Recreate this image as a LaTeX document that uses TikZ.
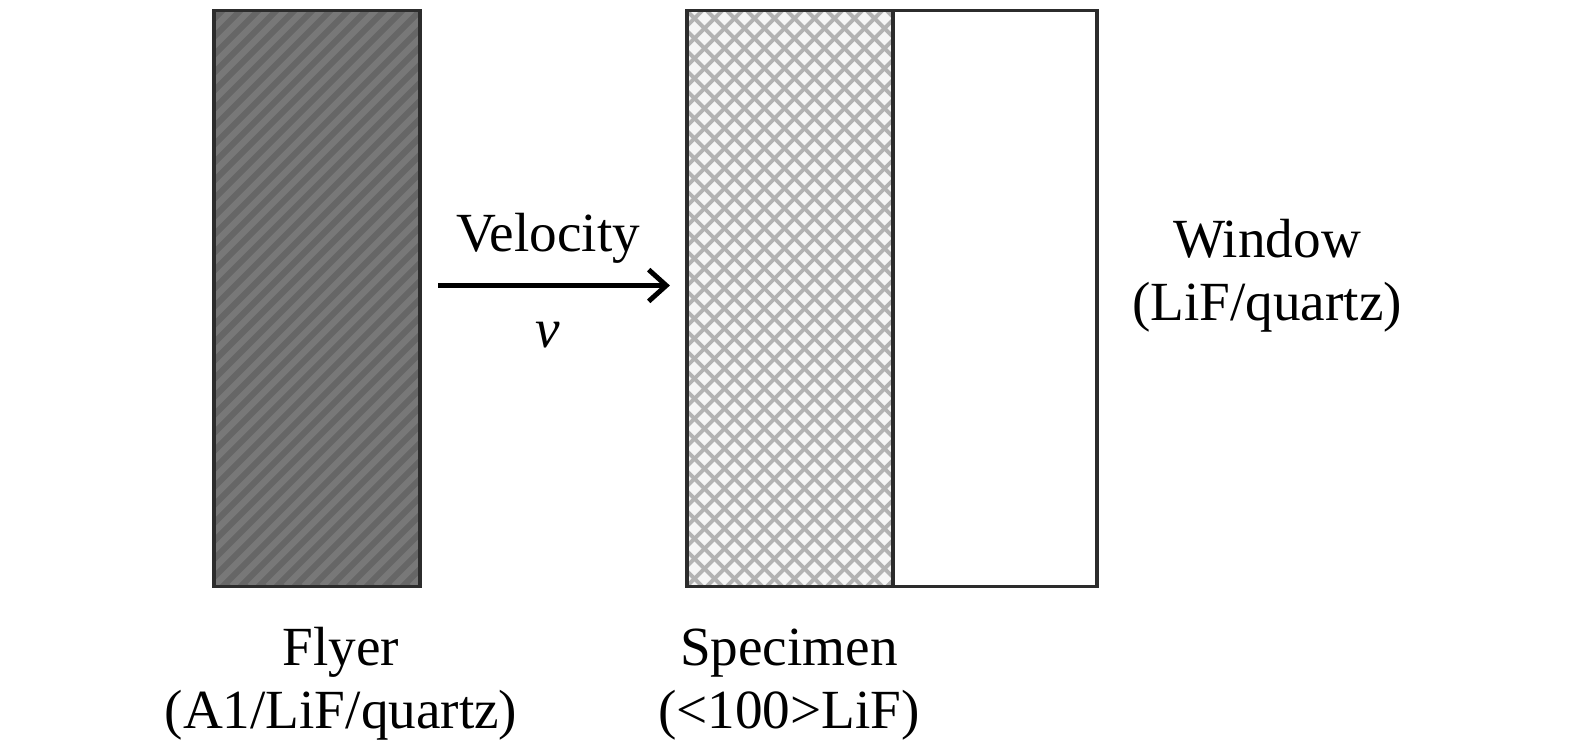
\documentclass[tikz,border=0pt]{standalone}
\usepackage{fontspec}
\setmainfont{Liberation Serif}
\usetikzlibrary{arrows.meta}
\definecolor{flyergray}{HTML}{666666}
\definecolor{stripegray}{HTML}{787878}
\definecolor{meshgray}{HTML}{B2B2B2}
\definecolor{edgegray}{HTML}{2C2C2C}
\tikzset{
  slab/.style={draw=edgegray, line width=0.9pt, minimum height=5.75cm, inner sep=0pt, outer sep=0pt},
  txt/.style={anchor=base, inner sep=0pt, font=\fontsize{15.7}{18}\selectfont}
}

\begin{document}
\begin{tikzpicture}[x=0.01cm, y=-0.01cm]
\useasboundingbox (0,0) rectangle (1575,748);
% window first, specimen shares its left edge
\node[slab, minimum width=2.04cm, fill=white] (window) at (995,298.5) {};
\node[slab, minimum width=2.06cm, fill=black!4, path picture={
  \foreach \k in {-30,...,11} {
    \draw[meshgray, line width=1.1pt] ([xshift=\k*0.2cm]path picture bounding box.south west) -- ++(6cm,6cm);
    \draw[meshgray, line width=1.1pt] ([xshift=\k*0.2cm]path picture bounding box.north west) -- ++(6cm,-6cm);
  }
}] (specimen) at (790,298.5) {};
\node[slab, minimum width=2.06cm, fill=flyergray, path picture={
  \foreach \k in {-33,...,12}
    \draw[stripegray, line width=1.8pt] ([xshift=\k*0.18cm]path picture bounding box.south west) -- ++(6cm,6cm);
}] (flyer) at (317,298.5) {};
% impact arrow
\draw[line width=1.4pt, -{Straight Barb[length=5pt, width=9pt]}, shorten <=0.18cm, shorten >=0.17cm]
  ([yshift=0.13cm]flyer.east) -- ([yshift=0.13cm]specimen.west);
\node[txt] (vel) at (548,251) {Velocity};
\node[txt] (vsym) at (548,347) {\textit{v}};
% labels
\node[txt] (fname) at (341,665) {Flyer};
\node[txt] (fmat) at (341,728) {(A1/LiF/quartz)};
\node[txt] (sname) at (789,665) {Specimen};
\node[txt] (smat) at (789,728) {(<100>LiF)};
\node[txt] (wname) at (1267,257) {Window};
\node[txt] (wmat) at (1267,320) {(LiF/quartz)};
\end{tikzpicture}
\end{document}
